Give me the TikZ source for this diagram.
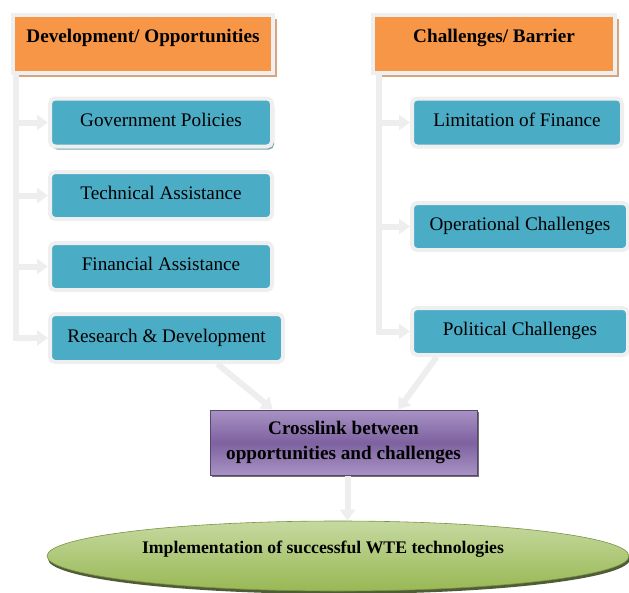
\documentclass[tikz,border=0pt]{standalone}
\usepackage{fontspec}
\setmainfont{Liberation Serif}
\usetikzlibrary{shapes.geometric,arrows.meta,shadows}
\definecolor{headorange}{HTML}{F79646}
\definecolor{headshadow}{HTML}{D3A582}
\definecolor{itemteal}{HTML}{4BACC6}
\definecolor{itemrim}{HTML}{EFEFEF}
\definecolor{linkgrey}{HTML}{EEEEEE}
\definecolor{crosspurple}{HTML}{7E62A0}
\definecolor{crosslight}{HTML}{A893C4}
\definecolor{goalgreen}{HTML}{98B854}
\definecolor{goallight}{HTML}{C6D9A0}

\begin{document}
\begin{tikzpicture}[x=1pt,y=-1pt]
    \tikzstyle{head}=[draw=itemrim, line width=4pt, fill=headorange,
      font=\fontsize{19.2}{22}\selectfont\bfseries, inner ysep=6pt,
      text height=21pt, text depth=25pt,
      drop shadow={shadow xshift=4pt, shadow yshift=-4pt, fill=headshadow, opacity=1}]
    \tikzstyle{item}=[draw=itemrim, line width=4pt, rounded corners=5pt, fill=itemteal,
      font=\fontsize{19.2}{22}\selectfont, minimum height=47pt,
      text height=15pt, text depth=7pt]
    \tikzstyle{link}=[draw=linkgrey, line width=6pt, -{Triangle[width=15pt,length=11pt]}]
    \useasboundingbox (0,0) rectangle (629,592);
    % headers
    \node(Dev)[head, minimum width=260pt] at (143,44) {Development/ Opportunities};
    \node(Chal)[head, minimum width=242pt] at (494,44) {Challenges/ Barrier};
    % opportunities
    \node(Gov)[item, minimum width=222pt, minimum height=48pt,
      drop shadow={shadow xshift=2pt, shadow yshift=-3pt, fill=black!25!itemteal!70!white, opacity=1}]
      at (161,122.5) {Government Policies};
    \node(Tech)[item, minimum width=222pt] at (161,195.5) {Technical Assistance};
    \node(Fin)[item, minimum width=222pt] at (161,266.5) {Financial Assistance};
    \node(RD)[item, minimum width=233pt, minimum height=48pt] at (166.5,338) {Research \& Development};
    % barriers
    \node(Lim)[item, minimum width=210pt, minimum height=48pt] at (517,122.5) {Limitation of Finance};
    \node(Oper)[item, minimum width=216pt] at (520,226.5) {Operational Challenges};
    \node(Pol)[item, minimum width=216pt] at (520,331.5) {Political Challenges};
    % crosslink and goal
    \node(Cross)[draw=crosspurple!70!black, line width=1pt, top color=crosslight,
      bottom color=crosslight, middle color=crosspurple, minimum width=267pt,
      minimum height=65pt, align=center, font=\fontsize{19.2}{25}\selectfont\bfseries,
      drop shadow={shadow xshift=2pt, shadow yshift=-2pt, fill=black!70, opacity=0.8}]
      at (343.5,442.5) {Crosslink between\\opportunities and challenges};
    \node(Goal)[ellipse, top color=goallight, bottom color=goalgreen, draw=goalgreen!80!black,
      line width=0.6pt, minimum width=582pt, minimum height=70pt, inner sep=0pt,
      text height=12pt, text depth=18pt, font=\fontsize{17.7}{21}\selectfont\bfseries,
      drop shadow={shadow xshift=1pt, shadow yshift=-3pt, fill=black!60!goalgreen, opacity=0.9}]
      at (338,556) {Implementation of successful WTE technologies\hspace*{30pt}};
    % connectors
    \draw[link] ([xshift=5pt]Dev.south west) |- (Gov.west);
    \draw[link] ([xshift=5pt]Dev.south west) |- (Tech.west);
    \draw[link] ([xshift=5pt]Dev.south west) |- (Fin.west);
    \draw[link] ([xshift=5pt]Dev.south west) |- (RD.west);
    \draw[link] ([xshift=8pt]Chal.south west) |- (Lim.west);
    \draw[link] ([xshift=8pt]Chal.south west) |- (Oper.west);
    \draw[link] ([xshift=8pt]Chal.south west) |- (Pol.west);
    \draw[link] (RD.-27) -- (Cross.155);
    \draw[link] (Pol.-163) -- (Cross.31);
    \draw[link] ([xshift=4pt]Cross.south) -- ([xshift=4pt]Cross.south |- Goal.north);
\end{tikzpicture}
\end{document}
